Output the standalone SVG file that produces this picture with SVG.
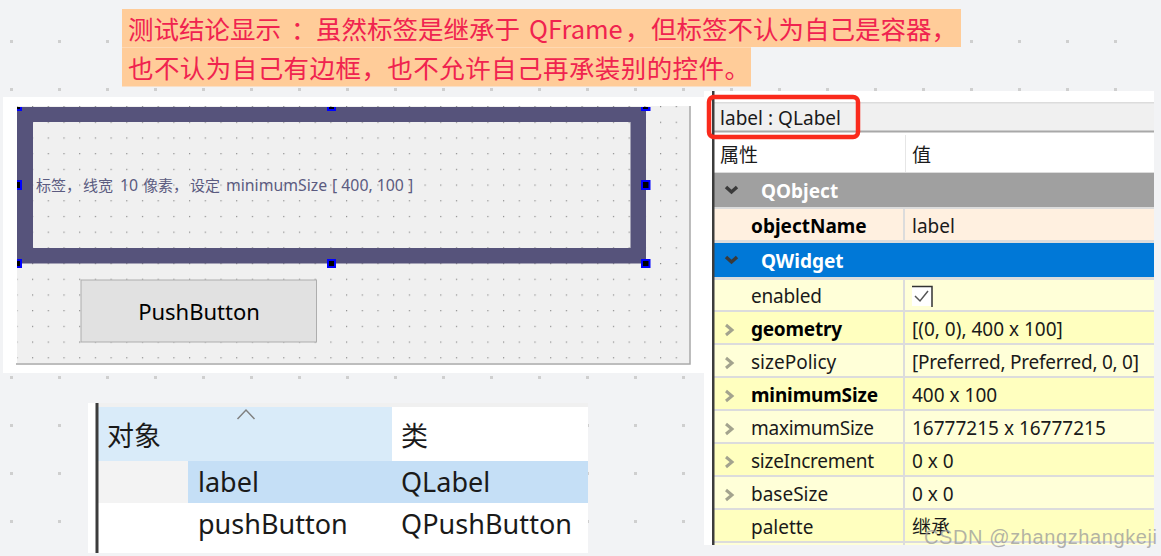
<svg xmlns="http://www.w3.org/2000/svg" width="1161" height="556" viewBox="0 0 1161 556">
<style>
text{font-family:"Noto Sans","Noto Sans CJK SC",sans-serif;fill:#1a1a1a}
.banner{font-size:25.500px;fill:#f0234f;font-family:"Noto Sans CJK SC","Noto Sans",sans-serif}
.p{font-size:19px}
.b{font-size:19px;font-weight:700;fill:#000}
.g{font-size:19px;font-weight:700;fill:#fff}
.t{font-size:27px}
.h{fill:#00f}
.hc{fill:#000}
.lat{font-size:15.800px}
.chev{fill:none;stroke:#a3a38e;stroke-width:3}
.chevd{fill:none;stroke:#3a3a3a;stroke-width:3.5}
.sep{fill:#dcdcdc}
</style>
<defs>
<pattern id="bgDots" x="10" y="-8" width="48" height="48" patternUnits="userSpaceOnUse"><rect width="3" height="3" fill="#cfcfcf"/></pattern>
<pattern id="formDots" x="16.3" y="106" width="15.7" height="15.7" patternUnits="userSpaceOnUse"><rect width="1.2" height="1.2" fill="#8a8a8a"/></pattern>
</defs>
<rect width="1161" height="556" fill="#f2f3f5"/>
<rect width="1161" height="556" fill="url(#bgDots)"/>

<g id="banner">
<rect x="122" y="9" width="839" height="38" fill="#ffcc99"/>
<rect x="122" y="47" width="629" height="1" fill="#ffd9b3"/>
<rect x="122" y="48" width="629" height="38.500" fill="#ffcc99"/>
<text class="banner" y="39"><tspan x="128">测试结论显示</tspan><tspan x="291">：</tspan><tspan x="316">虽然标签是继承于</tspan><tspan x="529">QFrame</tspan><tspan x="625">，</tspan><tspan x="651">但标签不认为自己是容器，</tspan></text>
<text class="banner" x="128" y="78" textLength="622" lengthAdjust="spacing">也不认为自己有边框，也不允许自己再承装别的控件。</text>
</g>

<g id="form">
<rect x="3" y="97" width="701" height="276" fill="#fff"/>
<rect x="17" y="106" width="673" height="257" fill="#f0f0f0"/>
<rect x="17" y="106" width="673" height="257" fill="url(#formDots)"/>
<path d="M690 106V364H16" fill="none" stroke="#a8a8a8" stroke-width="1.500"/>
</g>

<g id="label-frame">
<path d="M17 107H646V263.500H17ZM33 122V248H630.500V122Z" fill="#56537b" fill-rule="evenodd"/>
<text y="191" font-size="15" style="fill:#5b5b80"><tspan x="36">标签，</tspan><tspan x="83">线宽</tspan><tspan class="lat" x="120">10</tspan><tspan x="143">像素，</tspan><tspan x="190">设定</tspan><tspan class="lat" x="226">minimumSize</tspan><tspan class="lat" x="332">[ 400, 100 ]</tspan></text>
<g id="handles">
<rect class="h" x="17" y="107" width="5" height="4"/><rect class="hc" x="17" y="107" width="3" height="2"/>
<rect class="h" x="327" y="107" width="9" height="4"/><rect class="hc" x="329" y="107" width="5" height="2"/>
<rect class="h" x="641" y="107" width="9.500" height="4"/><rect class="hc" x="643" y="107" width="5" height="2"/>
<rect class="h" x="17" y="180" width="5" height="10"/><rect class="hc" x="17" y="182" width="3" height="6"/>
<rect class="h" x="641" y="180" width="9.500" height="10"/><rect class="hc" x="643" y="182" width="5.500" height="6"/>
<rect class="h" x="17" y="259" width="5" height="9"/><rect class="hc" x="17" y="261" width="3" height="5"/>
<rect class="h" x="327" y="259" width="9" height="9"/><rect class="hc" x="329" y="261" width="5" height="5"/>
<rect class="h" x="641" y="259" width="9.500" height="9"/><rect class="hc" x="643" y="261" width="5.500" height="5"/>
</g>
</g>

<g id="push-button">
<rect x="81" y="280" width="235.500" height="62" fill="#e1e1e1" stroke="#adadad" stroke-width="1"/>
<text x="199" y="320" font-size="22" text-anchor="middle" style="fill:#000">PushButton</text>
</g>

<g id="object-table">
<rect x="88" y="403" width="500" height="150" fill="#fff"/>
<rect x="98" y="403" width="490" height="4" fill="#f0f0f0"/>
<rect x="98" y="407" width="294" height="54" fill="#d9ebf9"/>
<rect x="98" y="461" width="90" height="42" fill="#f3f3f3"/>
<rect x="188" y="461" width="400" height="42" fill="#c5dff6"/>
<rect x="95.500" y="403" width="3" height="150" fill="#3c3c3c"/>
<polyline points="237.500,419 246,410 254.500,419" fill="none" stroke="#808080" stroke-width="1.500"/>
<text class="t" x="107" y="446">对象</text>
<text class="t" x="401" y="446">类</text>
<text class="t" x="198" y="492">label</text>
<text class="t" x="401" y="492">QLabel</text>
<text class="t" x="198" y="534">pushButton</text>
<text class="t" x="401" y="534" textLength="171" lengthAdjust="spacing">QPushButton</text>
</g>

<g id="property-editor">
<rect x="704" y="91" width="450" height="454" fill="#fff"/>
<rect x="714" y="103" width="440" height="28" fill="#f0f0f0"/>
<rect x="714" y="102" width="440" height="1.500" fill="#dcdcdc"/>
<rect x="714" y="130.500" width="440" height="2" fill="#a8a8a8"/>
<text class="p" x="720" y="125" textLength="121" lengthAdjust="spacing">label : QLabel</text>
<text class="p" x="720" y="162">属性</text>
<text class="p" x="912" y="162">值</text>
<rect x="905" y="135" width="1" height="37" fill="#e6e6e6"/>

<rect x="714" y="172" width="440" height="373" fill="#dcdcdc"/>
<rect x="714" y="173" width="440" height="34" fill="#a0a0a0"/>
<rect x="714" y="209" width="440" height="31" fill="#fff0e0"/>
<rect x="714" y="243" width="440" height="34" fill="#0078d7"/>
<rect x="714" y="280" width="440" height="30" fill="#ffffd8"/>
<rect x="714" y="312" width="440" height="31" fill="#ffffbf"/>
<rect x="714" y="345" width="440" height="31" fill="#ffffd8"/>
<rect x="714" y="378" width="440" height="31" fill="#ffffbf"/>
<rect x="714" y="411" width="440" height="31" fill="#ffffd8"/>
<rect x="714" y="444" width="440" height="31" fill="#ffffbf"/>
<rect x="714" y="477" width="440" height="31" fill="#ffffd8"/>
<rect x="714" y="510" width="440" height="31" fill="#ffffbf"/>
<rect x="714" y="543" width="440" height="2" fill="#ffffd8"/>
<rect class="sep" x="903" y="209" width="2" height="31"/>
<rect class="sep" x="903" y="280" width="2" height="265"/>

<polyline class="chevd" points="726,187 731.500,192 737,187"/>
<polyline class="chevd" points="726,257 731.500,262 737,257"/>
<text class="g" x="761" y="198">QObject</text>
<text class="g" x="761" y="268">QWidget</text>
<text class="b" x="751" y="233">objectName</text>
<text class="p" x="912" y="233">label</text>

<text class="p" x="751" y="303" textLength="71" lengthAdjust="spacing">enabled</text>
<rect x="912" y="286" width="20" height="20" fill="#fff"/>
<path d="M912 286.500H932V307" fill="none" stroke="#333" stroke-width="1.500"/>
<polyline points="915,296 920,301 928,291" fill="none" stroke="#555" stroke-width="1.500"/>

<polyline class="chev" points="726,325 732,330 726,335"/>
<polyline class="chev" points="726,358 732,363 726,368"/>
<polyline class="chev" points="726,391 732,396 726,401"/>
<polyline class="chev" points="726,424 732,429 726,434"/>
<polyline class="chev" points="726,457 732,462 726,467"/>
<polyline class="chev" points="726,490 732,495 726,500"/>

<text class="b" x="751" y="336" textLength="91" lengthAdjust="spacing">geometry</text>
<text class="p" x="912" y="336">[(0, 0), 400 x 100]</text>
<text class="p" x="751" y="369">sizePolicy</text>
<text class="p" x="912" y="369" textLength="227" lengthAdjust="spacing">[Preferred, Preferred, 0, 0]</text>
<text class="b" x="751" y="402" textLength="127" lengthAdjust="spacing">minimumSize</text>
<text class="p" x="912" y="402">400 x 100</text>
<text class="p" x="751" y="435" textLength="123" lengthAdjust="spacing">maximumSize</text>
<text class="p" x="912" y="435">16777215 x 16777215</text>
<text class="p" x="751" y="468" textLength="123" lengthAdjust="spacing">sizeIncrement</text>
<text class="p" x="912" y="468">0 x 0</text>
<text class="p" x="751" y="501">baseSize</text>
<text class="p" x="912" y="501">0 x 0</text>
<text class="p" x="751" y="534">palette</text>
<text class="p" x="912" y="534">继承</text>
<rect x="712" y="91" width="2.500" height="454" fill="#3c3c3c"/>
<rect x="709" y="97" width="149" height="40" rx="5" fill="none" stroke="#fa2a1c" stroke-width="4.500"/>
</g>

<g id="watermark">
<text x="924" y="544" font-size="20" style="font-family:'Liberation Sans',sans-serif;fill:#9a9a9a;fill-opacity:.75" textLength="233" lengthAdjust="spacing">CSDN @zhangzhangkeji</text>
</g>
<g id="connectors"/>
</svg>
